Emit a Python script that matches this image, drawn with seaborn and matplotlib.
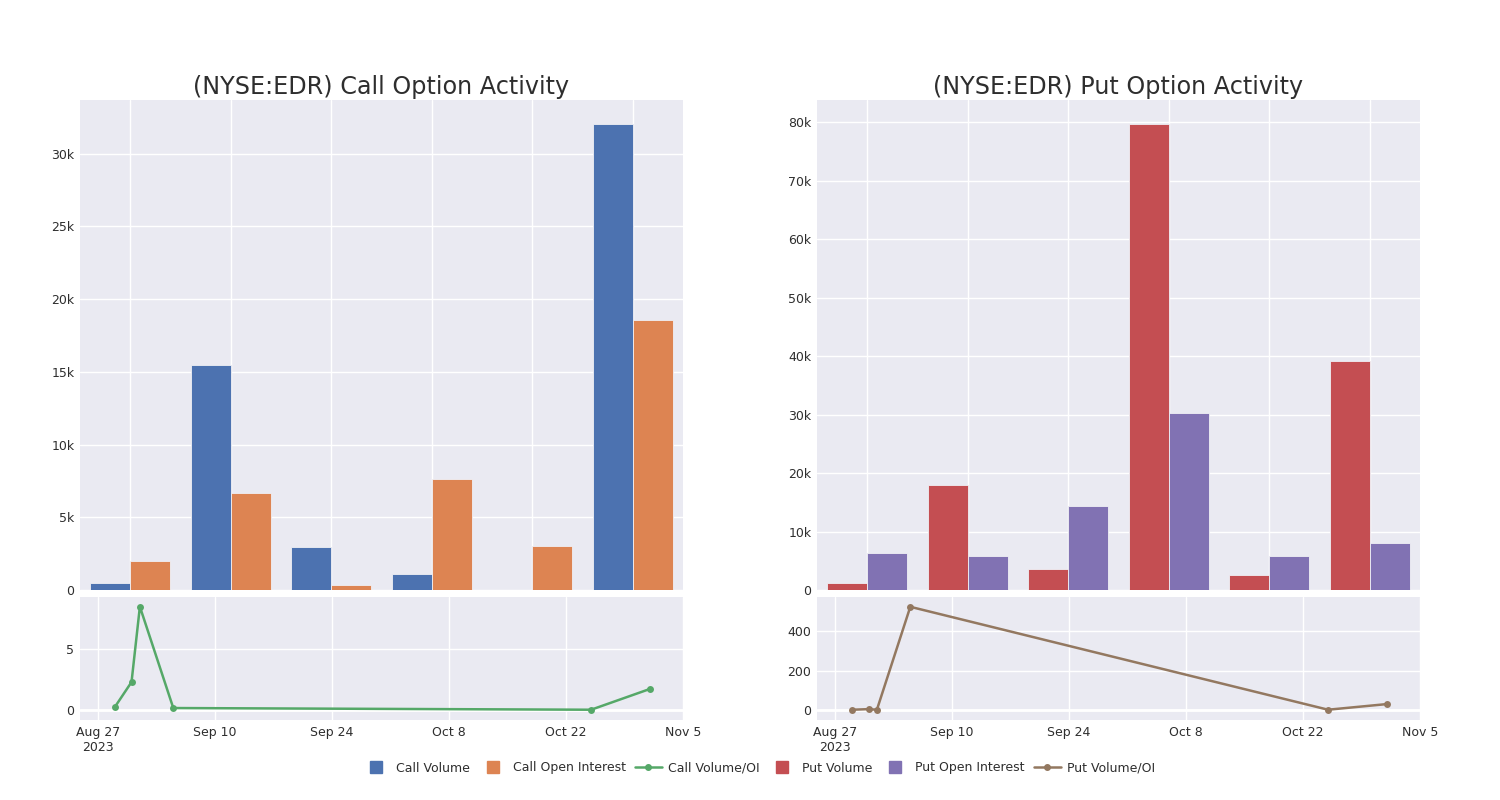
import matplotlib
matplotlib.use('Agg')
import matplotlib.pyplot as plt
from matplotlib.lines import Line2D
import pandas as pd
import seaborn as sns

# ---- data ----
dates = ['2023-08-29', '2023-08-31', '2023-09-01', '2023-09-05', '2023-10-25', '2023-11-01']
call_volume = [450, 15450, 2960, 1100, 0, 32070]
call_oi = [2000, 6680, 350, 7640, 3030, 18580]
call_ratio = [0.22, 2.29, 8.53, 0.14, 0.0, 1.71]
put_volume = [1200, 17950, 3600, 79660, 2560, 39100]
put_oi = [6300, 5800, 14360, 30260, 5800, 8030]
put_ratio = [0.2, 3.4, 0.25, 525, 0.4, 29]
tick_dates = ['2023-08-27', '2023-09-10', '2023-09-24', '2023-10-08', '2023-10-22', '2023-11-05']
tick_labels = ['Aug 27\n2023', 'Sep 10', 'Sep 24', 'Oct 8', 'Oct 22', 'Nov 5']
call_ticks = [0, 5000, 10000, 15000, 20000, 25000, 30000]
call_tick_labels = ['0', '5k', '10k', '15k', '20k', '25k', '30k']
put_ticks = [0, 10000, 20000, 30000, 40000, 50000, 60000, 70000, 80000]
put_tick_labels = ['0', '10k', '20k', '30k', '40k', '50k', '60k', '70k', '80k']

BLUE, ORANGE, GREEN = '#4C72B0', '#DD8452', '#55A868'
RED, PURPLE, BROWN = '#C44E52', '#8172B3', '#937860'
TXT = '#2e2e2e'

sns.set_theme(style='darkgrid')
plt.rcParams['font.family'] = ['DejaVu Sans']
plt.rcParams['text.color'] = TXT
plt.rcParams['xtick.color'] = TXT
plt.rcParams['ytick.color'] = TXT

fig = plt.figure(figsize=(15, 8), dpi=100)
W, H = 1500, 800

def box(x0, y0, x1, y1):
    return [x0 / W, 1 - y1 / H, (x1 - x0) / W, (y1 - y0) / H]

ax_ct = fig.add_axes(box(80, 100, 683, 590))
ax_cb = fig.add_axes(box(80, 597, 683, 720))
ax_pt = fig.add_axes(box(817, 100, 1420, 590))
ax_pb = fig.add_axes(box(817, 597, 1420, 720))

cat_labels = dates

def bar_panel(ax, vol, oi, names, colors, ticks, tlabels, ymax, title):
    df = pd.DataFrame({
        'cat': cat_labels * 2,
        'value': list(vol) + list(oi),
        'series': [names[0]] * len(vol) + [names[1]] * len(oi),
    })
    sns.barplot(data=df, x='cat', y='value', hue='series', palette=colors,
                width=0.8, dodge=True, ax=ax, legend=False,
                edgecolor='#f0f0f5', linewidth=0.6, saturation=1)
    ax.set_xlim(-0.5, len(cat_labels) - 0.5)
    ax.set_ylim(0, ymax)
    ax.set_xticks(range(len(cat_labels)))
    ax.set_xticklabels([])
    ax.set_yticks(ticks)
    ax.set_yticklabels(tlabels)
    ax.set_xlabel('')
    ax.set_ylabel('')
    ax.tick_params(axis='both', length=0, labelsize=9, pad=4)
    ax.grid(True, color='white', linewidth=1)
    for s in ax.spines.values():
        s.set_visible(False)
    ax.set_title(title, fontsize=17.2, color=TXT, pad=4)

def line_panel(ax, ratio, color, ylo, yhi, yticks):
    df = pd.DataFrame({'date': pd.to_datetime(dates), 'ratio': ratio})
    sns.lineplot(data=df, x='date', y='ratio', color=color, marker='o',
                 markersize=5, markeredgewidth=0, linewidth=1.8, ax=ax)
    ax.set_xlim(pd.Timestamp('2023-08-24 20:00'), pd.Timestamp('2023-11-05'))
    ax.set_ylim(ylo, yhi)
    ax.set_xticks(pd.to_datetime(tick_dates))
    ax.set_xticklabels(tick_labels)
    ax.set_yticks(yticks)
    ax.set_xlabel('')
    ax.set_ylabel('')
    ax.tick_params(axis='both', length=0, labelsize=9, pad=4)
    ax.grid(True, color='white', linewidth=1)
    ax.axhline(0, color='white', linewidth=2, zorder=1)
    for s in ax.spines.values():
        s.set_visible(False)

bar_panel(ax_ct, call_volume, call_oi, ['Call Volume', 'Call Open Interest'],
          [BLUE, ORANGE], call_ticks, call_tick_labels, 33700,
          '(NYSE:EDR) Call Option Activity')
bar_panel(ax_pt, put_volume, put_oi, ['Put Volume', 'Put Open Interest'],
          [RED, PURPLE], put_ticks, put_tick_labels, 83800,
          '(NYSE:EDR) Put Option Activity')
line_panel(ax_cb, call_ratio, GREEN, -0.85, 9.33, [0, 5])
line_panel(ax_pb, put_ratio, BROWN, -52, 575, [0, 200, 400])

handles = [
    Line2D([], [], linestyle='none', marker='s', markersize=8, color=BLUE),
    Line2D([], [], linestyle='none', marker='s', markersize=8, color=ORANGE),
    Line2D([], [], color=GREEN, marker='o', markersize=4, linewidth=1.8),
    Line2D([], [], linestyle='none', marker='s', markersize=8, color=RED),
    Line2D([], [], linestyle='none', marker='s', markersize=8, color=PURPLE),
    Line2D([], [], color=BROWN, marker='o', markersize=4, linewidth=1.8),
]
labels = ['Call Volume', 'Call Open Interest', 'Call Volume/OI',
          'Put Volume', 'Put Open Interest', 'Put Volume/OI']
fig.legend(handles, labels, loc='center', bbox_to_anchor=(0.506, 0.04), ncol=6,
           frameon=False, fontsize=9, handlelength=2.2, columnspacing=0.7,
           handletextpad=0.5)

fig.savefig('out.png', dpi=100, facecolor='white')
